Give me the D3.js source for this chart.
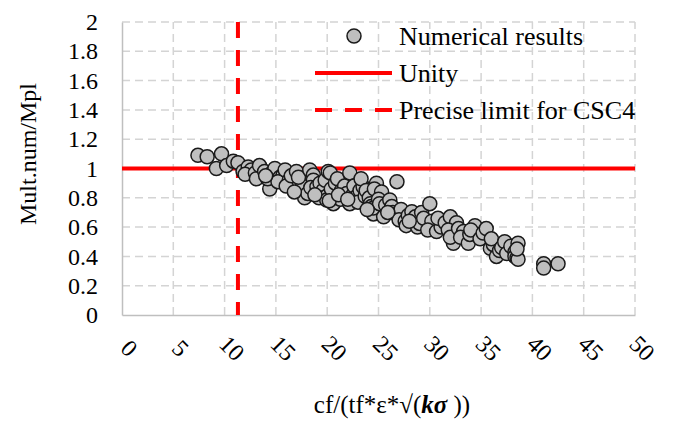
<!DOCTYPE html>
<html>
<head>
  <meta charset="UTF-8" />
  <script src="https://d3js.org/d3.v7.min.js"></script>
  <style>
    body { margin: 0; background: #fff; }
    svg text { font-family: "Liberation Serif", serif !important; fill: #000; }
  </style>
</head>
<body>
<div id="chart"></div>
<script>
  // values
  var xTicks = [0, 5, 10, 15, 20, 25, 30, 35, 40, 45, 50];
  var yTicks = [0, 0.2, 0.4, 0.6, 0.8, 1, 1.2, 1.4, 1.6, 1.8, 2];
  var unity = 1;
  var cscLimit = 11.3;
  var legendLabels = ["Numerical results", "Unity", "Precise limit for CSC4"];

  var ratioX = [7.4, 8.3, 9.7, 9.2, 10.2, 10.85, 11.3, 11.8, 12.3, 12.6, 12.0, 13.0,
    13.1, 13.4, 13.9, 14.4, 14.6, 14.9, 14.2, 15.4, 15.7, 16.05, 15.2, 15.9, 16.3,
    16.7, 16.0, 16.5, 17.0, 17.35, 17.6, 17.2, 17.8, 18.1, 18.3, 18.65, 18.65, 18.4,
    19.0, 19.3, 19.6, 19.2, 19.8, 19.95, 19.95, 20.1, 20.3, 20.6, 20.9, 20.4, 20.8,
    21.0, 21.4, 21.7, 21.3, 21.9, 22.2, 22.2, 22.5, 22.6, 22.9, 23.2, 23.0, 23.5,
    23.3, 23.7, 23.8, 24.1, 24.2, 24.3, 24.5, 24.5, 24.8, 24.6, 25.3, 25.0, 25.1,
    25.5, 25.7, 26.1, 26.3, 26.8, 26.4, 26.8, 27.2, 27.0, 27.6, 27.7, 27.9, 28.25,
    28.6, 28.8, 29.0, 29.2, 29.4, 30.0, 30.2, 29.8, 30.66, 31.1, 30.8, 31.5, 32.0,
    32.6, 31.8, 32.3, 32.0, 32.8, 33.3, 33.0, 33.75, 34.4, 33.9, 34.0, 34.9, 35.2,
    35.5, 35.9, 36.2, 36.0, 36.5, 36.8, 37.0, 37.3, 37.5, 37.9, 38.3, 38.3, 38.5,
    38.6, 38.6, 38.5, 41.1, 41.1, 42.5,
    14.0, 16.8, 18.8, 20.2, 21.1, 22.0, 23.9, 25.9, 28.0];
  var multRatio = [1.09, 1.08, 1.10, 1.00, 1.02, 1.05, 1.04, 0.98, 1.01, 0.99, 0.96, 0.97,
    0.93, 1.02, 0.98, 0.86, 0.97, 1.00, 0.93, 0.94, 0.955, 0.97, 0.91, 0.99, 0.92,
    0.90, 0.88, 0.95, 0.98, 0.85, 0.88, 0.94, 0.80, 0.83, 0.99, 0.955, 0.92, 0.87,
    0.875, 0.90, 0.85, 0.80, 0.92, 0.81, 0.785, 0.98, 0.97, 0.76, 0.80, 0.86, 0.90,
    0.93, 0.85, 0.88, 0.79, 0.83, 0.97, 0.76, 0.82, 0.88, 0.81, 0.85, 0.77, 0.875,
    0.93, 0.81, 0.85, 0.80, 0.76, 0.74, 0.69, 0.73, 0.90, 0.86, 0.84, 0.79, 0.76,
    0.67, 0.75, 0.785, 0.74, 0.91, 0.70, 0.69, 0.72, 0.65, 0.64, 0.61, 0.68, 0.705,
    0.67, 0.60, 0.625, 0.70, 0.66, 0.76, 0.64, 0.58, 0.57, 0.60, 0.66, 0.63, 0.67,
    0.63, 0.58, 0.49, 0.53, 0.59, 0.57, 0.53, 0.49, 0.61, 0.55, 0.58, 0.52, 0.56,
    0.59, 0.455, 0.48, 0.52, 0.40, 0.44, 0.46, 0.50, 0.42, 0.47, 0.43, 0.40, 0.39,
    0.38, 0.49, 0.45, 0.35, 0.32, 0.35,
    0.95, 0.84, 0.82, 0.78, 0.82, 0.79, 0.72, 0.70, 0.64];

  var points = ratioX.map((x, i) => ({ x: x, y: multRatio[i] }));

  var width = 673, height = 425;
  var serif = "'Liberation Serif', serif";
  var svg = d3.select("#chart")
    .append("svg")
    .attr("width", width)
    .attr("height", height);

  var xScale = d3.scaleLinear().domain([0, 50]).range([122, 635]);
  var yScale = d3.scaleLinear().domain([0, 2]).range([315, 22]);

  // dashed grid
  svg.append("g").selectAll("line")
    .data(xTicks.slice(1))
    .enter().append("line")
    .attr("x1", d => xScale(d)).attr("x2", d => xScale(d))
    .attr("y1", yScale(0)).attr("y2", yScale(2))
    .attr("stroke", "#d4d4d4").attr("stroke-width", 1.5)
    .attr("stroke-dasharray", "8,5");
  svg.append("g").selectAll("line")
    .data(yTicks.slice(1))
    .enter().append("line")
    .attr("x1", xScale(0)).attr("x2", xScale(50))
    .attr("y1", d => yScale(d)).attr("y2", d => yScale(d))
    .attr("stroke", "#d4d4d4").attr("stroke-width", 1.5)
    .attr("stroke-dasharray", "8,5");

  // axes
  var yAxis = d3.axisLeft(yScale).tickValues(yTicks).tickSize(0).tickPadding(24)
    .tickFormat(d => String(+d.toFixed(1)));
  var gy = svg.append("g").attr("transform", "translate(" + xScale(0) + ",0)").call(yAxis);
  gy.attr("font-family", serif).attr("font-size", 24);
  gy.select(".domain").attr("stroke", "#bfbfbf").attr("stroke-width", 1.5);
  gy.selectAll("text").style("font-family", serif).style("font-size", "24px");

  var xAxis = d3.axisBottom(xScale).tickValues(xTicks).tickSize(0).tickFormat(d => d);
  var gx = svg.append("g").attr("transform", "translate(0," + yScale(0) + ")").call(xAxis);
  gx.attr("font-family", serif).attr("font-size", 24);
  gx.select(".domain").attr("stroke", "#bfbfbf").attr("stroke-width", 1.5);
  gx.selectAll("text")
    .style("font-family", serif)
    .style("font-size", "24px")
    .attr("y", 0).attr("dy", "0.35em")
    .attr("text-anchor", "middle")
    .attr("transform", "translate(7,33) rotate(45)");

  // reference lines
  svg.append("line")
    .attr("x1", xScale(0)).attr("x2", xScale(50))
    .attr("y1", yScale(unity)).attr("y2", yScale(unity))
    .attr("stroke", "#ff0000").attr("stroke-width", 4);
  svg.append("line")
    .attr("x1", xScale(cscLimit)).attr("x2", xScale(cscLimit))
    .attr("y1", yScale(2)).attr("y2", yScale(0))
    .attr("stroke", "#ff0000").attr("stroke-width", 4)
    .attr("stroke-dasharray", "16,12");

  // points
  svg.append("g").selectAll("circle")
    .data(points)
    .enter().append("circle")
    .attr("cx", d => xScale(d.x))
    .attr("cy", d => yScale(d.y))
    .attr("r", 7)
    .attr("fill", "#bfbfbf")
    .attr("stroke", "#1a1a1a")
    .attr("stroke-width", 1.5);

  // legend
  var legend = svg.append("g");
  legend.append("circle").attr("cx", 354).attr("cy", 36).attr("r", 7)
    .attr("fill", "#bfbfbf").attr("stroke", "#1a1a1a").attr("stroke-width", 1.5);
  legend.append("line").attr("x1", 315).attr("x2", 392).attr("y1", 73).attr("y2", 73)
    .attr("stroke", "#ff0000").attr("stroke-width", 4);
  legend.append("line").attr("x1", 315).attr("x2", 392).attr("y1", 110).attr("y2", 110)
    .attr("stroke", "#ff0000").attr("stroke-width", 4).attr("stroke-dasharray", "17,13");
  legend.selectAll("text")
    .data(legendLabels)
    .enter().append("text")
    .attr("x", 399)
    .attr("y", (d, i) => 36 + i * 37)
    .attr("dy", "0.33em")
    .style("font-size", "26px")
    .text(d => d);

  // axis titles
  var xt = svg.append("text")
    .attr("x", 392).attr("y", 413)
    .attr("text-anchor", "middle")
    .style("font-size", "25px");
  xt.append("tspan").text("cf/(tf*ε*√(");
  xt.append("tspan").attr("font-weight", "bold").attr("font-style", "italic").text("kσ");
  xt.append("tspan").text(" ))");

  svg.append("text")
    .attr("transform", "translate(36,154) rotate(-90)")
    .attr("text-anchor", "middle")
    .style("font-size", "24px")
    .text("Mult.num/Mpl");
</script>
</body>
</html>
